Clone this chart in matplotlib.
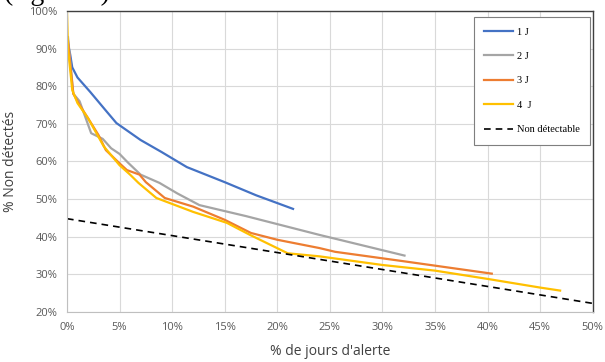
import matplotlib
matplotlib.use("Agg")
import matplotlib.pyplot as plt
from matplotlib.ticker import MultipleLocator, FuncFormatter

# % jours d'alerte (x) / % non detectes (y)
x_1j = [0, 0.3, 0.5, 1.0, 2.2, 3.1, 3.7, 4.7, 7.0, 9.0, 11.4, 15.0, 18.0, 21.5]
y_1j = [92.5, 88.5, 85.0, 82.3, 78.5, 75.5, 73.5, 70.2, 65.7, 62.5, 58.5, 54.5, 51.0, 47.4]

x_2j = [0.1, 0.3, 0.6, 1.2, 2.3, 3.4, 4.2, 5.0, 5.8, 7.0, 8.8, 10.5, 12.6, 17.0, 24.0, 32.1]
y_2j = [93.0, 87.0, 78.0, 76.0, 67.5, 66.0, 63.5, 62.0, 59.7, 56.5, 54.3, 51.5, 48.4, 45.5, 40.5, 35.0]

x_3j = [0.1, 0.3, 0.6, 1.2, 2.0, 3.0, 3.7, 5.0, 5.7, 6.9, 7.5, 9.3, 12.0, 15.0, 17.5, 20.0, 24.0, 25.5, 32.0, 40.4]
y_3j = [92.0, 86.0, 78.0, 75.0, 71.5, 67.0, 63.0, 59.5, 57.7, 56.5, 54.5, 50.3, 48.0, 44.5, 41.0, 39.2, 37.0, 36.0, 33.5, 30.2]

x_4j = [0, 0.1, 0.5, 1.0, 2.0, 3.5, 5.0, 6.0, 6.8, 8.5, 12.0, 15.2, 17.4, 21.0, 24.0, 30.0, 35.0, 40.0, 45.0, 46.9]
y_4j = [100.0, 90.0, 79.0, 75.5, 71.5, 64.0, 59.0, 56.5, 54.3, 50.3, 46.6, 43.7, 40.5, 35.6, 34.8, 32.5, 31.0, 28.8, 26.5, 25.7]

x_nd = [0, 50]
y_nd = [44.8, 22.3]

fig = plt.figure(figsize=(6.05, 3.62), dpi=100)
ax = fig.add_axes([0.1107, 0.138, 0.869, 0.832])

ax.plot(x_1j, y_1j, color="#4472C4", lw=1.6, label="1 J")
ax.plot(x_2j, y_2j, color="#A5A5A5", lw=1.6, label="2 J")
ax.plot(x_3j, y_3j, color="#ED7D31", lw=1.6, label="3 J")
ax.plot(x_4j, y_4j, color="#FFC000", lw=1.6, label="4  J")
ax.plot(x_nd, y_nd, color="black", lw=1.2, ls=(0, (4, 3)), label="Non détectable")

ax.set_xlim(0, 50)
ax.set_ylim(20, 100)
ax.xaxis.set_major_locator(MultipleLocator(5))
ax.yaxis.set_major_locator(MultipleLocator(10))
pct = FuncFormatter(lambda v, p: "%d%%" % round(v))
ax.xaxis.set_major_formatter(pct)
ax.yaxis.set_major_formatter(pct)
ax.grid(True, color="#d9d9d9", lw=0.8)
ax.set_axisbelow(True)
ax.tick_params(length=0, labelsize=8, labelcolor="#595959", pad=7)
for t in ax.get_xticklabels() + ax.get_yticklabels():
    t.set_family("Open Sans")

for s in ["left", "bottom"]:
    ax.spines[s].set_color("#bfbfbf")
    ax.spines[s].set_linewidth(0.8)
for s in ["top", "right"]:
    ax.spines[s].set_color("#404040")
    ax.spines[s].set_linewidth(1.0)

ax.set_xlabel("% de jours d'alerte", fontsize=10, color="#404040",
              family="Open Sans", labelpad=8)
ax.set_ylabel("% Non détectés", fontsize=10, color="#404040",
              family="Open Sans", labelpad=8)

leg = ax.legend(loc="upper right", bbox_to_anchor=(0.9945, 0.98),
                prop={"family": "Liberation Serif", "size": 7.5},
                fancybox=False, framealpha=1, edgecolor="#7f7f7f",
                handlelength=2.8, labelspacing=1.45, handletextpad=0.3,
                borderpad=1.0, borderaxespad=0)
leg.get_frame().set_linewidth(0.8)

# legende de la figure, coupee en haut de l'image
fig.text(0.006, 0.999, "(figure 7)", fontsize=20, family="Liberation Serif",
         va="baseline", ha="left")

fig.savefig("out.png", dpi=100)
